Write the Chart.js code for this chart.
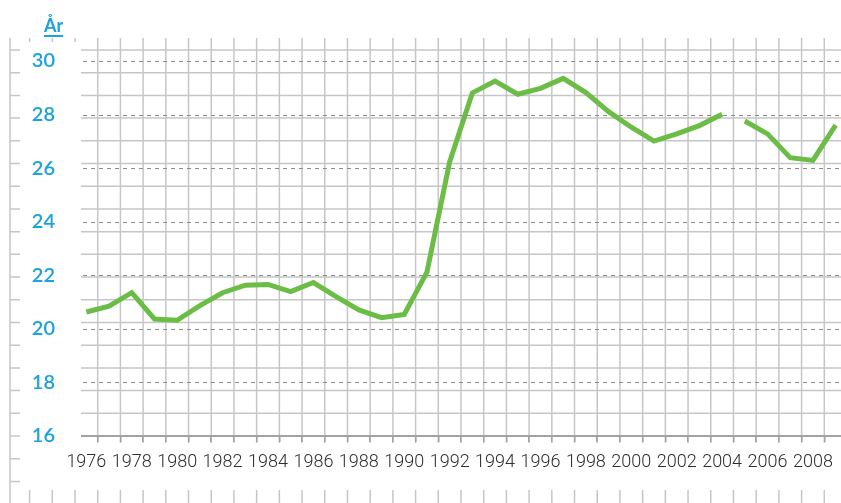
<!DOCTYPE html>
<html lang="sv">
<head>
<meta charset="utf-8">
<title>År</title>
<script src="https://cdn.jsdelivr.net/npm/chart.js@4.4.1/dist/chart.umd.min.js"></script>
<style>
    html, body { margin: 0; padding: 0; background: #fff; overflow: hidden; }
    #wrap { position: absolute; left: 0; top: 0; width: 860px; height: 503px; }
    #unit {
        position: absolute; left: 44px; top: 14px; z-index: 2;
        font: 700 18px Lato, "Open Sans", sans-serif; color: #1aa3dc;
        text-decoration: underline; text-decoration-thickness: 2px; text-underline-offset: 3px;
    }
</style>
</head>
<body>
<div id="wrap"><canvas id="age-chart"></canvas></div>
<div id="unit">År</div>
<script>
// Kategorier (år) och värden
const years = ['1976', '1977', '1978', '1979', '1980', '1981', '1982', '1983', '1984', '1985',
    '1986', '1987', '1988', '1989', '1990', '1991', '1992', '1993', '1994', '1995',
    '1996', '1997', '1998', '1999', '2000', '2001', '2002', '2003', '2004', '2005',
    '2006', '2007', '2008', '2009'];
const ages = [20.63, 20.85, 21.35, 20.37, 20.32, 20.87, 21.35, 21.63, 21.66, 21.39,
    21.73, 21.2, 20.71, 20.42, 20.54, 22.12, 26.23, 28.81, 29.25, 28.76,
    28.98, 29.35, 28.82, 28.11, 27.53, 27.01, 27.28, 27.59, 28.01, 27.76,
    27.28, 26.39, 26.29, 27.61];
const xTickLabels = ['1976', '1978', '1980', '1982', '1984', '1986', '1988', '1990', '1992',
    '1994', '1996', '1998', '2000', '2002', '2004', '2006', '2008'];
const yTicks = [16, 18, 20, 22, 24, 26, 28, 30];
// Serien bryts mellan 2004 och 2005
const breakAfter = '2004';

const paperColor = '#c6c6ca';
const axisColor = '#a2a2a6';
const dashColor = '#8c8c8c';

// Rutat papper bakom diagrammet
const graphPaper = {
    id: 'graphPaper',
    beforeDraw(chart) {
        const { ctx, chartArea, scales } = chart;
        const x = scales.x;
        const y = scales.y;
        const step = x.getPixelForValue(1) - x.getPixelForValue(0);
        const W = chart.width;
        const H = chart.height;
        const top = chartArea.top;
        const bottom = chartArea.bottom;
        const margin = 10;

        function line(x1, y1, x2, y2) {
            ctx.beginPath();
            ctx.moveTo(x1, y1);
            ctx.lineTo(x2, y2);
            ctx.stroke();
        }

        ctx.save();
        ctx.strokeStyle = paperColor;
        ctx.lineWidth = 1.5;

        // Lodräta linjer
        const first = x.getPixelForValue(0) - step / 2;
        for (let px = first; px > margin + 5; px -= step) line(px, top, px, H);
        for (let px = first + step; px < W; px += step) line(px, top, px, H);
        line(margin, top, margin, H);

        // Vågräta linjer
        for (let py = bottom - step; py > top + 5; py -= step) line(margin, py, W, py);
        for (let py = bottom; py < H; py += step) line(margin, py, W, py);

        // Vita fält för etiketterna
        ctx.fillStyle = '#fff';
        ctx.fillRect(margin + 10, top + 4, chartArea.left + 6 - (margin + 10), H - 13 - (top + 4));
        ctx.fillRect(margin + 10, bottom + 7, W, H - 13 - (bottom + 7));

        // Streckade stödlinjer
        ctx.strokeStyle = dashColor;
        ctx.lineWidth = 1;
        ctx.setLineDash([4, 4]);
        yTicks.forEach(v => {
            const py = Math.round(y.getPixelForValue(v)) + 0.5;
            line(chartArea.left + 8, py, W, py);
        });
        ctx.setLineDash([]);

        // X-axel
        ctx.strokeStyle = axisColor;
        ctx.lineWidth = 2;
        line(chartArea.left + 6, bottom, W, bottom);
        ctx.restore();
    }
};

document.addEventListener('DOMContentLoaded', function() {
    initAgeChart();
});

function initAgeChart() {
    const ctx = document.getElementById('age-chart');
    new Chart(ctx, {
        type: 'line',
        data: {
            labels: years,
            datasets: [{
                data: ages,
                borderColor: '#6cbd45',
                borderWidth: 5,
                pointRadius: 0,
                tension: 0,
                segment: {
                    borderColor: c => years[c.p0DataIndex] === breakAfter ? 'rgba(0,0,0,0)' : undefined
                }
            }]
        },
        options: {
            responsive: true,
            maintainAspectRatio: false,
            animation: false,
            layout: {
                padding: { top: 38, right: 13, bottom: 0, left: 0 }
            },
            plugins: {
                legend: { display: false },
                tooltip: { enabled: false }
            },
            scales: {
                x: {
                    type: 'category',
                    offset: true,
                    afterFit: scale => { scale.height = 67; },
                    border: { display: false },
                    grid: {
                        offset: true,
                        drawOnChartArea: false,
                        drawTicks: true,
                        tickLength: 6,
                        lineWidth: 1.5,
                        color: c => c.index === 0 ? 'rgba(0,0,0,0)' : axisColor
                    },
                    ticks: {
                        autoSkip: false,
                        maxRotation: 0,
                        padding: 10,
                        color: '#2e2e2e',
                        font: { family: 'Roboto, "Liberation Sans", sans-serif', size: 18, weight: '300' },
                        callback: function(value, index) {
                            const label = this.getLabelForValue(value);
                            return xTickLabels.includes(label) ? label : '';
                        }
                    }
                },
                y: {
                    min: 16,
                    max: 30.86,
                    afterFit: scale => { scale.width = 75; },
                    afterBuildTicks: scale => { scale.ticks = yTicks.map(v => ({ value: v })); },
                    border: { display: false },
                    grid: { display: false },
                    ticks: {
                        padding: 12,
                        color: '#1aa3dc',
                        font: { family: 'Lato, "Open Sans", sans-serif', size: 20, weight: '600' }
                    }
                }
            }
        },
        plugins: [graphPaper]
    });
}
</script>
</body>
</html>
